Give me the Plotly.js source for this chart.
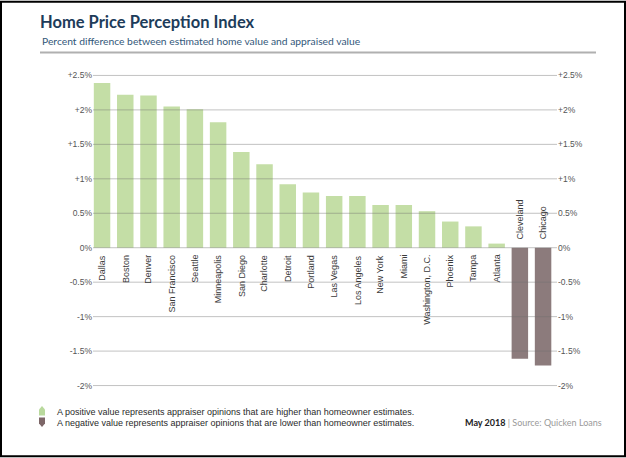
<!DOCTYPE html>
<html>
<head>
<meta charset="utf-8">
<script src="https://cdn.plot.ly/plotly-3.0.1.min.js"></script>
<style>
  html, body { margin: 0; padding: 0; background: #fff; }
  #chart { width: 626px; height: 458px; }
</style>
</head>
<body>
<div id="chart"></div>
<script>
// ---- Data ----
const categories = ['Dallas', 'Boston', 'Denver', 'San Francisco', 'Seattle', 'Minneapolis', 'San Diego',
  'Charlotte', 'Detroit', 'Portland', 'Las Vegas', 'Los Angeles', 'New York', 'Miami',
  'Washington, D.C.', 'Phoenix', 'Tampa', 'Atlanta', 'Cleveland', 'Chicago'];
const values = [2.39, 2.22, 2.21, 2.05, 2.01, 1.82, 1.39, 1.21, 0.92, 0.80, 0.75, 0.75, 0.62, 0.62,
  0.53, 0.38, 0.31, 0.06, -1.61, -1.71];
const tickVals = [-2, -1.5, -1, -0.5, 0, 0.5, 1, 1.5, 2, 2.5];
const tickText = ['-2%', '-1.5%', '-1%', '-0.5%', '0%', '0.5%', '+1%', '+1.5%', '+2%', '+2.5%'];
const titleText = 'Home Price Perception Index';
const subtitleText = 'Percent difference between estimated home value and appraised value';
const legendTexts = [
  'A positive value represents appraiser opinions that are higher than homeowner estimates.',
  'A negative value represents appraiser opinions that are lower than homeowner estimates.'
];
const footerDate = 'May 2018';
const footerSource = 'Source: Quicken Loans';

// ---- Layout helpers ----
const W = 626, H = 458;
const M = { l: 93, r: 69, t: 71.5, b: 68.5 };
const pw = W - M.l - M.r, ph = H - M.t - M.b;
const px = x => (x - M.l) / pw;
const py = y => (H - M.b - y) / ph;

const POS = '#c4dea6', NEG = '#8c7b7c', GRID = 'rgba(110,110,110,0.42)';
const NARROW = 'Liberation Sans Narrow, Arial Narrow, Liberation Sans, sans-serif';

const barColors = values.map(v => v >= 0 ? POS : NEG);

const traces = [
  {
    type: 'bar', x: categories, y: values,
    marker: { color: barColors, line: { width: 0 } },
    hoverinfo: 'x+y'
  },
  {
    type: 'scatter', mode: 'markers', x: categories, y: values, yaxis: 'y2',
    marker: { opacity: 0 }, hoverinfo: 'skip', showlegend: false
  }
];

const annotations = categories.map((c, i) => ({
  x: c, y: 0, xref: 'x', yref: 'y',
  text: c, textangle: -90, showarrow: false,
  yanchor: values[i] >= 0 ? 'top' : 'bottom',
  yshift: values[i] >= 0 ? -5 : 6,
  font: { family: NARROW, size: 9, color: '#3a3a3a' }
}));

annotations.push({
  x: px(40), y: py(40), xref: 'paper', yref: 'paper', xanchor: 'left', yanchor: 'middle',
  text: subtitleText, showarrow: false,
  font: { family: 'Lato, sans-serif', size: 10.3, color: '#33587a' }
});
annotations.push({
  x: px(55), y: py(413), xref: 'paper', yref: 'paper', xanchor: 'left', yanchor: 'middle',
  text: legendTexts[0], showarrow: false,
  font: { family: NARROW, size: 9, color: '#2a2a2a' }
});
annotations.push({
  x: px(55), y: py(423.5), xref: 'paper', yref: 'paper', xanchor: 'left', yanchor: 'middle',
  text: legendTexts[1], showarrow: false,
  font: { family: NARROW, size: 9, color: '#2a2a2a' }
});
annotations.push({
  x: px(604), y: py(423.5), xref: 'paper', yref: 'paper', xanchor: 'right', yanchor: 'middle',
  text: '<b>' + footerDate + '</b> <span style="color:#9a9a9a">| ' + footerSource + '</span>',
  showarrow: false,
  font: { family: 'Lato, sans-serif', size: 9, color: '#222' }
});

const poly = pts => 'M ' + pts.map(p => px(p[0]) + ',' + py(p[1])).join(' L ') + ' Z';

// gridlines at every tick value, drawn over the bars as in the reference
const gridShapes = tickVals.map(v => ({
  type: 'line', xref: 'paper', yref: 'y', x0: 0, x1: 1, y0: v, y1: v,
  line: { color: GRID, width: 1 }, layer: 'above'
}));

const shapes = gridShapes.concat([
  { type: 'rect', xref: 'paper', yref: 'paper', x0: px(1), x1: px(625), y0: py(457), y1: py(1),
    line: { color: '#000', width: 2 }, fillcolor: 'rgba(0,0,0,0)', layer: 'above' },
  { type: 'line', xref: 'paper', yref: 'paper', x0: px(40), x1: px(596), y0: py(52), y1: py(52),
    line: { color: '#b0b0b0', width: 2 } },
  { type: 'path', xref: 'paper', yref: 'paper', path: poly([[39, 416], [39, 410], [42, 406.5], [45, 410], [45, 416]]),
    fillcolor: '#b9d99d', line: { width: 0 } },
  { type: 'path', xref: 'paper', yref: 'paper', path: poly([[39, 418], [45, 418], [45, 424], [42, 427.5], [39, 424]]),
    fillcolor: '#7d6668', line: { width: 0 } }
]);

const yCommon = {
  range: [-2.05, 2.55], tickmode: 'array', tickvals: tickVals, ticktext: tickText,
  ticks: '', fixedrange: true, showgrid: false, zeroline: false, showline: false,
  tickfont: { family: NARROW, size: 8.5, color: '#555' }
};

const layout = {
  width: W, height: H, margin: M,
  paper_bgcolor: '#fff', plot_bgcolor: 'rgba(0,0,0,0)',
  showlegend: false, bargap: 0.29,
  title: {
    text: '<b>' + titleText + '</b>', x: 40 / W, xanchor: 'left', xref: 'container',
    y: 1 - 22 / H, yanchor: 'middle',
    font: { family: 'Lato, sans-serif', size: 16.5, color: '#1d3c5a' }
  },
  xaxis: {
    type: 'category', range: [-0.39, 19.6], showticklabels: false,
    showgrid: false, zeroline: false, showline: false, ticks: '', fixedrange: true
  },
  yaxis: Object.assign({}, yCommon),
  yaxis2: Object.assign({}, yCommon, { overlaying: 'y', side: 'right' }),
  annotations: annotations,
  shapes: shapes
};

Plotly.newPlot('chart', traces, layout, { displayModeBar: false, staticPlot: true });
</script>
</body>
</html>
